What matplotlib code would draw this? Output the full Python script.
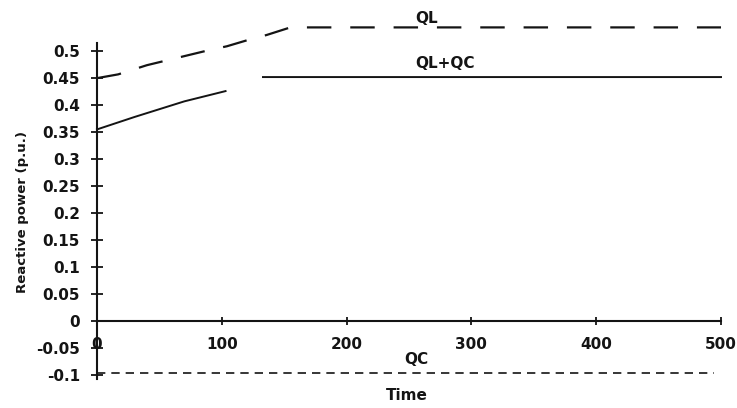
import numpy as np
import matplotlib
matplotlib.use("Agg")
import matplotlib.pyplot as plt

# reactive power traces (p.u.) against time
ql_t = [0, 17, 40, 90, 104, 120, 136, 155, 500]
ql = [0.45, 0.457, 0.474, 0.502, 0.509, 0.52, 0.53, 0.544, 0.544]

qlqc_t = [0, 30, 70, 103, 118, 133, 500]
qlqc = [0.355, 0.378, 0.407, 0.426, np.nan, 0.452, 0.452]

qc_t = [0, 494]
qc = [-0.097, -0.097]

yticks = [-0.1, -0.05, 0, 0.05, 0.1, 0.15, 0.2, 0.25, 0.3, 0.35, 0.4, 0.45, 0.5]
ytick_labels = ['-0.1', '-0.05', '0', '0.05', '0.1', '0.15', '0.2', '0.25',
                '0.3', '0.35', '0.4', '0.45', '0.5']
xticks = [0, 100, 200, 300, 400, 500]

plt.rcParams['font.family'] = 'DejaVu Sans'
plt.rcParams['font.weight'] = 'bold'

fig = plt.figure(figsize=(7.37, 4.08), dpi=100)
ax = fig.add_axes([0.1316, 0.061, 0.8467, 0.893])

ink = '#141414'
ax.plot(ql_t, ql, color=ink, lw=1.6, dashes=(11, 8.5), clip_on=False)
ax.plot(qlqc_t, qlqc, color=ink, lw=1.4, clip_on=False)
ax.plot(qc_t, qc, color=ink, lw=1.2, dashes=(5, 3.6), clip_on=False)

ax.text(264, 0.561, 'QL', ha='center', va='center', fontsize=11, fontweight='bold', color=ink)
ax.text(279, 0.478, 'QL+QC', ha='center', va='center', fontsize=11, fontweight='bold', color=ink)
ax.text(256, -0.072, 'QC', ha='center', va='center', fontsize=11, fontweight='bold', color=ink)

ax.set_xlim(0, 500)
ax.set_ylim(-0.115, 0.56)

for s in ['top', 'right']:
    ax.spines[s].set_visible(False)
ax.spines['bottom'].set_position(('data', 0))
ax.spines['bottom'].set_bounds(0, 500)
ax.spines['left'].set_bounds(-0.108, 0.515)
for s in ['bottom', 'left']:
    ax.spines[s].set_linewidth(1.5)
    ax.spines[s].set_color(ink)

ax.set_yticks(yticks)
ax.set_yticklabels(ytick_labels)
ax.set_xticks(xticks)
ax.tick_params(axis='y', direction='inout', length=8, width=1.3, pad=8.3,
               labelsize=11, colors=ink)
ax.tick_params(axis='x', direction='inout', length=6, width=1.3, pad=8.6,
               labelsize=11, colors=ink)

fig.text(407 / 737, 1 - 395 / 408, 'Time', ha='center', va='center',
         fontsize=11, fontweight='bold', color=ink)
fig.text(23 / 737, 1 - 212 / 408, 'Reactive power (p.u.)', ha='center', va='center',
         rotation=90, fontsize=9.5, fontweight='bold', color=ink)

fig.savefig('out.png', dpi=100, facecolor='white')
